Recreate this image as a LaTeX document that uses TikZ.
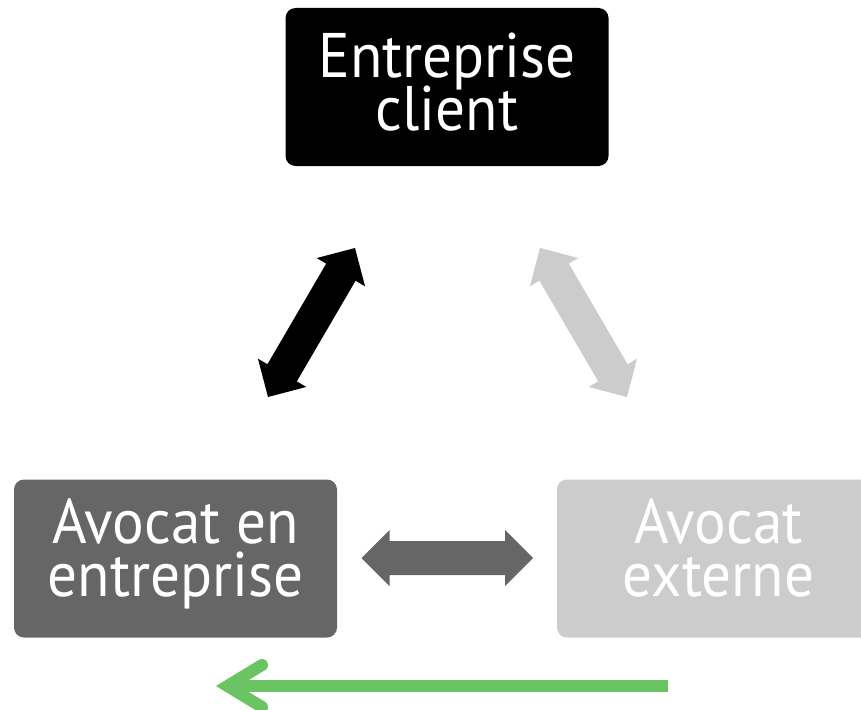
\documentclass[tikz,border=0pt]{standalone}
\usepackage{fontspec}
\setmainfont[FakeStretch=0.94]{PT Sans}
\usetikzlibrary{calc}

\definecolor{boxdark}{RGB}{102,102,102}
\definecolor{boxlight}{RGB}{204,204,204}
\definecolor{flowgreen}{RGB}{106,196,98}

% large labels with tight leading
\newcommand\partyfont{\fontsize{63}{53}\selectfont\lineskiplimit -100pt\relax}

\tikzset{
  party/.style={rounded corners=10pt, minimum width=323pt, minimum height=158pt,
    inner sep=0pt, text=white, align=center, font=\partyfont},
  toptext/.style={text height=96pt, text depth=10pt},
  lowtext/.style={text height=95pt, text depth=20pt},
  flow/.style={draw=flowgreen, line width=12pt, line cap=butt},
  flowhead/.style={draw=flowgreen, line width=12pt, line cap=round, line join=miter},
}

% Filled double-headed block arrow between two tip coordinates:
% head length 28, head width 56, shaft width 34.
\newcommand\linkarrow[3]{%
  \fill[#1] (#2)
    -- ($(#2)!28pt!(#3)!28pt!90:(#3)$)
    -- ($(#2)!28pt!(#3)!17pt!90:(#3)$)
    -- ($(#3)!28pt!(#2)!17pt!-90:(#2)$)
    -- ($(#3)!28pt!(#2)!28pt!-90:(#2)$)
    -- (#3)
    -- ($(#3)!28pt!(#2)!28pt!90:(#2)$)
    -- ($(#3)!28pt!(#2)!17pt!90:(#2)$)
    -- ($(#2)!28pt!(#3)!17pt!-90:(#3)$)
    -- ($(#2)!28pt!(#3)!28pt!-90:(#3)$)
    -- cycle;}

\begin{document}
\begin{tikzpicture}[x=1pt, y=-1pt]
  \useasboundingbox (0,0) rectangle (861,709);
  \clip (0,0) rectangle (861,709);

  % the three parties
  \node[party, toptext, fill=black]    (client)   at (447,87)      {Entreprise\\client};
  \node[party, lowtext, fill=boxdark]  (inhouse)  at (175.5,558.5) {Avocat en\\entreprise};
  \node[party, lowtext, fill=boxlight] (external) at (718.5,558.5) {Avocat\\externe};

  % tips of the exchange arrows
  \coordinate (ci) at (268,397);
  \coordinate (ic) at (355,248);
  \coordinate (ce) at (627,397);
  \coordinate (ec) at (540,248);
  \coordinate (ie) at (361.5,558);
  \coordinate (ei) at (533,558);

  \linkarrow{black}{ci}{ic}
  \linkarrow{boxlight}{ce}{ec}
  \linkarrow{boxdark}{ie}{ei}

  % direction of the flow
  \coordinate (gstart)  at (668,686);
  \coordinate (gtip)    at (227.5,686);
  \coordinate (gbarbup) at (262,665);
  \coordinate (gbarbdn) at (262,707);
  \draw[flow] (gstart) -- (gtip);
  \draw[flowhead] (gbarbup) -- (gtip) -- (gbarbdn);
\end{tikzpicture}
\end{document}
